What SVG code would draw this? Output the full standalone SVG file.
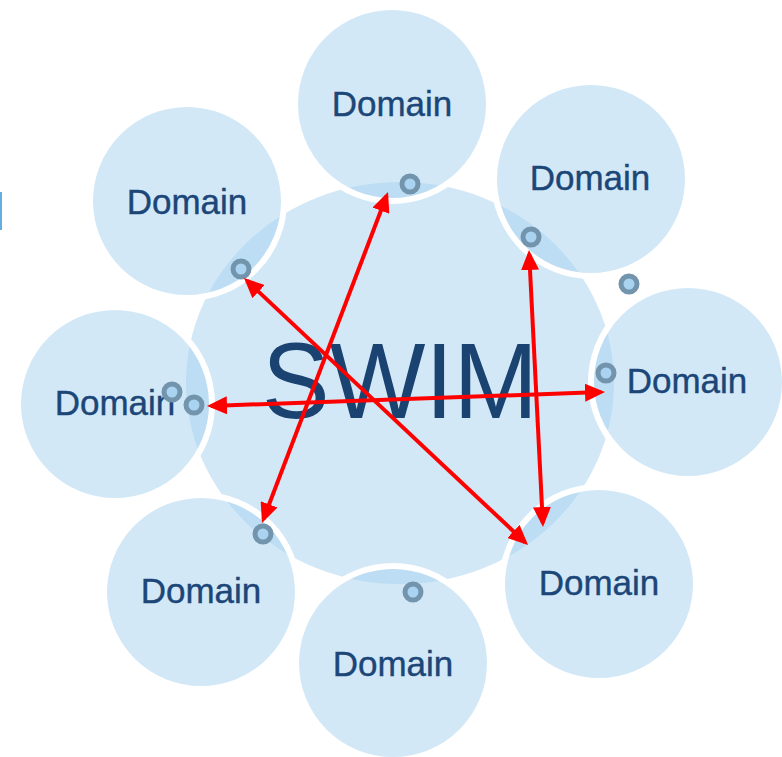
<svg xmlns="http://www.w3.org/2000/svg" width="782" height="757" viewBox="0 0 782 757">
<style>
.bg{fill:#ffffff}
.shape{fill:#a5d2ef;fill-opacity:0.5}
.dom{fill:#a5d2ef;fill-opacity:0.5;stroke:#ffffff;stroke-width:6}
.lbl{font-family:"Liberation Sans",Arial,sans-serif;font-size:35px;fill:#1b4677;text-anchor:middle;stroke:#1b4677;stroke-width:0.4}
.big{font-family:"Liberation Sans",Arial,sans-serif;font-size:108px;fill:#1a4371;text-anchor:middle}
.ring{fill:#a9d3f0;stroke:#7394ad;stroke-width:5}
.arr{stroke:#ff0000;stroke-width:4;fill:none;marker-start:url(#ah);marker-end:url(#ah)}
</style>
<defs>
<marker id="ah" markerUnits="userSpaceOnUse" markerWidth="20" markerHeight="18" viewBox="0 0 20 18" refX="16" refY="9" orient="auto-start-reverse">
<path d="M0,0 L20,9 L0,18 z" fill="#ff0000"/>
</marker>
</defs>
<rect class="bg" x="0" y="0" width="782" height="757"/>
<rect x="0" y="192" width="2" height="38" fill="#63b0e0"/>
<g id="swim">
<ellipse class="shape" cx="400" cy="383" rx="214" ry="201"/>
<text class="big" x="400" y="418" textLength="276" lengthAdjust="spacingAndGlyphs">SWIM</text>
</g>
<g id="domain-top">
<circle class="dom" cx="392" cy="104" r="97"/>
<text class="lbl" x="392" y="116">Domain</text>
</g>
<g id="domain-topright">
<circle class="dom" cx="591" cy="179" r="97"/>
<text class="lbl" x="590" y="190">Domain</text>
</g>
<g id="domain-right">
<circle class="dom" cx="688" cy="382" r="97"/>
<text class="lbl" x="687" y="393">Domain</text>
</g>
<g id="domain-bottomright">
<circle class="dom" cx="599" cy="584" r="97"/>
<text class="lbl" x="599" y="595">Domain</text>
</g>
<g id="domain-bottom">
<circle class="dom" cx="393" cy="663" r="97"/>
<text class="lbl" x="393" y="676">Domain</text>
</g>
<g id="domain-bottomleft">
<circle class="dom" cx="201" cy="592" r="97"/>
<text class="lbl" x="201" y="603">Domain</text>
</g>
<g id="domain-left">
<circle class="dom" cx="115" cy="404" r="97"/>
<text class="lbl" x="115" y="415">Domain</text>
</g>
<g id="domain-topleft">
<circle class="dom" cx="187" cy="201" r="97"/>
<text class="lbl" x="187" y="214">Domain</text>
</g>
<g id="rings">
<circle class="ring" cx="410" cy="184" r="8"/>
<circle class="ring" cx="531" cy="237" r="8"/>
<circle class="ring" cx="629" cy="284" r="8"/>
<circle class="ring" cx="241" cy="269" r="8"/>
<circle class="ring" cx="172" cy="392" r="8"/>
<circle class="ring" cx="194" cy="405" r="8"/>
<circle class="ring" cx="606" cy="373" r="8"/>
<circle class="ring" cx="263" cy="534" r="8"/>
<circle class="ring" cx="413" cy="592" r="8"/>
</g>
<g id="connectors">
<line class="arr" x1="246.9" y1="280.7" x2="525.1" y2="542.3"/>
<line class="arr" x1="386.6" y1="195.7" x2="263.4" y2="519.3"/>
<line class="arr" x1="529.2" y1="254" x2="542.8" y2="523"/>
<line class="arr" x1="211" y1="405.9" x2="601" y2="392.1"/>
</g>
</svg>
